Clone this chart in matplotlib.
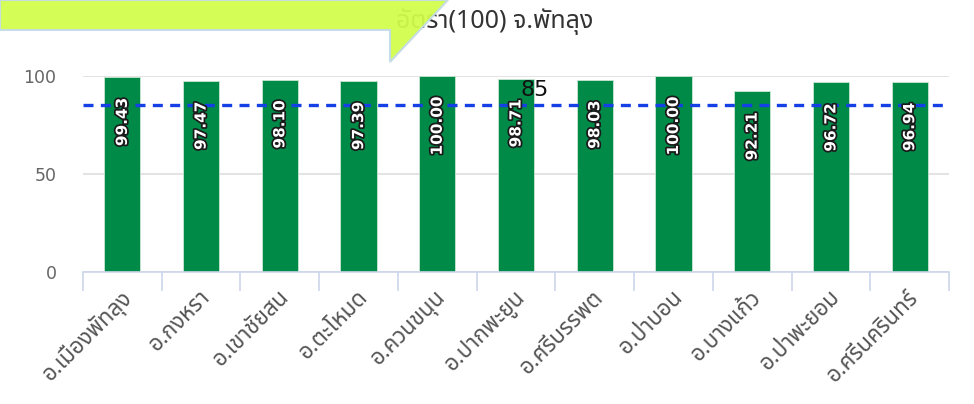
"""
Bar chart: อัตรา(100) จ.พัทลุง by district, with 85 target line
"""

import matplotlib
matplotlib.use('Agg')
import matplotlib.pyplot as plt
import matplotlib.patheffects as pe
from matplotlib import font_manager
from matplotlib.ft2font import FT2Font
from matplotlib.patches import Polygon

districts = ['อ.เมืองพัทลุง', 'อ.กงหรา', 'อ.เขาชัยสน', 'อ.ตะโหมด', 'อ.ควนขนุน',
             'อ.ปากพะยูน', 'อ.ศรีบรรพต', 'อ.ป่าบอน', 'อ.บางแก้ว', 'อ.ป่าพะยอม',
             'อ.ศรีนครินทร์']
rates = [99.43, 97.47, 98.10, 97.39, 100.00, 98.71, 98.03, 100.00, 92.21, 96.72, 96.94]
target = 85
y_ticks = [0, 50, 100]
title = 'อัตรา(100) จ.พัทลุง'


def find_thai_font():
    """Return a family name that has Thai glyphs, if any"""
    found = []
    for f in font_manager.fontManager.ttflist:
        try:
            cmap = FT2Font(f.fname).get_charmap()
        except Exception:
            continue
        if 0x0E01 in cmap and 0x0E31 in cmap:
            found.append(f.name)
    for pref in ['Tahoma', 'Noto Sans Thai', 'Noto Sans Thai UI', 'Loma', 'Garuda']:
        if pref in found:
            return pref
    return found[0] if found else None


thai = find_thai_font()
families = ([thai] if thai else []) + ['DejaVu Sans']
plt.rcParams['font.family'] = families

W, H = 974, 404
fig = plt.figure(figsize=(W / 100, H / 100), dpi=100)
ax = fig.add_axes([83 / W, 1 - 272 / H, (949 - 83) / W, (272 - 76) / H])

x = list(range(len(districts)))
ax.bar(x, rates, width=0.46, color='#008a47', edgecolor='#c8e6d2', linewidth=0.6, zorder=2)
ax.set_xlim(-0.5, len(districts) - 0.5)
ax.set_ylim(0, 100)

# grid + axes styling
ax.set_yticks(y_ticks)
ax.yaxis.grid(True, color='#dedede', linewidth=1.2, zorder=0)
for s in ['top', 'right', 'left']:
    ax.spines[s].set_visible(False)
ax.spines['bottom'].set_color('#ccd6eb')
ax.spines['bottom'].set_linewidth(1.2)
ax.tick_params(axis='y', length=0, pad=19, labelsize=12.5, labelcolor='#666666')
ax.set_yticklabels([str(v) for v in y_ticks], family=['DejaVu Sans'])

# category boundary ticks
ax.set_xticks([i - 0.5 for i in range(len(districts) + 1)], minor=True)
ax.tick_params(axis='x', which='minor', length=14, color='#ccd6eb', width=1.2)
ax.set_xticks(x)
ax.tick_params(axis='x', which='major', length=0, pad=16)
ax.set_xticklabels(districts, rotation=45, ha='right', va='center', rotation_mode='anchor',
                   fontsize=16, color='#555555')
for lbl in ax.get_xticklabels():
    lbl.set_transform(lbl.get_transform() + matplotlib.transforms.ScaledTranslation(
        6 / 100, 0, fig.dpi_scale_trans))

# target line
ax.axhline(target, color='#1440e6', linewidth=2.4, linestyle=(0, (3, 2.2)), zorder=3)
ax.text(5.24, target + 2.8, str(target), fontsize=16, color='#111111', ha='center',
        va='bottom', family=['DejaVu Sans'], zorder=4)

# value labels inside bars
for i, v in enumerate(rates):
    ax.annotate(f'{v:.2f}', (i, v), xytext=(0, -15), textcoords='offset points',
                rotation=90, ha='center', va='top', color='white', fontsize=11,
                fontweight='bold', family=['DejaVu Sans'], zorder=5,
                path_effects=[pe.withStroke(linewidth=2.5, foreground='#1a1a1a')])

# title (partly hidden by callout)
fig.text(593 / W, 1 - 22 / H, title, fontsize=18, color='#333333', ha='right', va='center')

# lime callout shape over the title
callout = Polygon([(0, H), (448, H), (390, H - 62), (390, H - 30), (0, H - 30)],
                  closed=True, transform=None, facecolor='#d2fd4a', edgecolor='#c4dbe8',
                  linewidth=1.5, alpha=0.94, zorder=10)
fig.patches.append(callout)

fig.savefig('out.png', dpi=100)
